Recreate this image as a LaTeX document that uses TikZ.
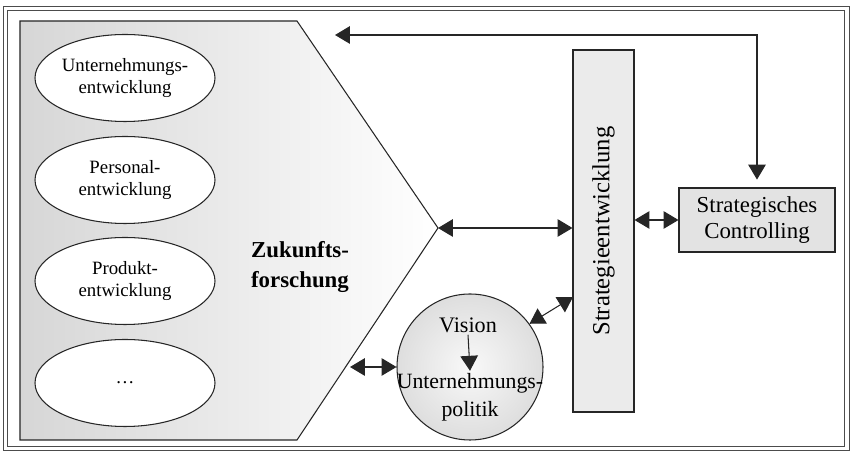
\documentclass[tikz,border=0pt]{standalone}
\usepackage{fontspec}
\setmainfont{Liberation Serif}
\usetikzlibrary{arrows.meta,shapes.geometric}

\tikzset{
  oval/.style={ellipse,draw,fill=white,minimum width=3.6cm,minimum height=1.74cm,
    inner sep=0pt,align=center,font=\fontsize{10.7}{13}\selectfont},
  graybox/.style={draw,fill=gray!16,inner sep=0pt,align=center},
  txt/.style={align=center,inner sep=1pt}
}

\begin{document}
\begin{tikzpicture}[line width=0.6pt,draw=black!85,>={Triangle[length=8.5pt,width=10pt]}]
        \useasboundingbox (0,0) rectangle (17.02,9.04);
        % draw the double frame
        \draw[double,double distance=2.2pt,line width=0.6pt,black!70] (0.11,0.07) rectangle (16.94,8.87);

        % draw the arrow shape
        \draw[left color=gray!32,right color=white] (0.40,8.62) -- (5.94,8.62)
              -- (8.76,4.48) coordinate (tip) -- (5.94,0.24) -- (0.40,0.24) -- cycle;

        % the ellipses on the left
        \foreach \y/\txt [count=\i] in {
            7.48/{Unternehmungs-\\entwicklung},
            5.44/{Personal-\\entwicklung},
            3.42/{Produkt-\\entwicklung},
            1.38/{\dots}}
                \node[oval] (ell\i) at (2.5,\y) {\txt};

        \node[txt,font=\fontsize{13}{17}\selectfont\bfseries] (zuk) at (6.0,3.70) {Zukunfts-\\forschung};

        % the boxes on the right
        \node[graybox,minimum width=1.22cm,minimum height=7.24cm] (strat) at (12.07,4.42)
              {\fontsize{14}{16}\selectfont\rotatebox{90}{Strategieentwicklung}};
        \node[graybox,fill=gray!22,minimum width=3.12cm,minimum height=1.28cm,
              font=\fontsize{13}{14.7}\selectfont] (ctrl) at (15.14,4.64)
              {Strategisches\\Controlling};

        % the circle
        \node[circle,draw,minimum size=2.92cm,inner sep=0pt,
              shading=radial,inner color=gray!5,outer color=gray!26] (circ) at (9.40,1.70) {};
        \node[txt,font=\fontsize{12.6}{14}\selectfont] (vis) at (9.36,2.54) {Vision};
        \node[txt,font=\fontsize{12.4}{16}\selectfont] (pol) at (9.40,1.10) {Unternehmungs-\\politik};
        \draw[->] (vis.south) -- (pol.north);

        % free ends of the arrows
        \coordinate (back) at (6.70,8.34);
        \coordinate (sj) at (11.46,3.10);
        \coordinate (hc) at (7.00,1.70);

        % draw the arrows
        \draw[<->,shorten >=4.5pt] (back) -| (ctrl.north);
        \draw[<->] (tip) -- (tip -| strat.west);
        \draw[<->] (ctrl.west -| strat.east) -- (ctrl.west);
        \draw[<->] (circ.36) -- (sj);
        \draw[<->] (hc) -- (circ.west);
\end{tikzpicture}
\end{document}
